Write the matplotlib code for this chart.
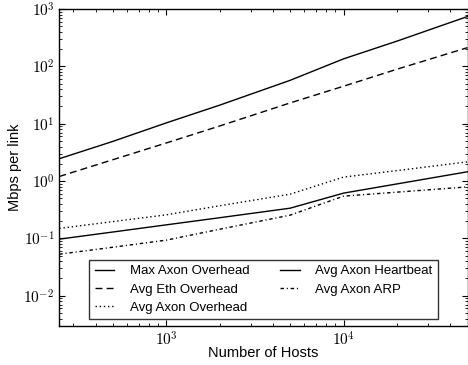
import matplotlib
matplotlib.use("Agg")
import matplotlib.pyplot as plt
from matplotlib.ticker import LogLocator, FuncFormatter, NullFormatter
import numpy as np

plt.rcParams['font.family'] = ['Liberation Sans', 'DejaVu Sans']
plt.rcParams['mathtext.fontset'] = 'cm'

hosts = [250, 500, 1000, 2000, 5000, 10000, 20000, 50000]
max_axon_overhead = [2.45, 4.9, 10.3, 21, 57, 135, 275, 740]
avg_eth_overhead = [1.2, 2.35, 4.6, 9.1, 23, 45, 89, 212]
avg_axon_overhead = [0.149, 0.196, 0.257, 0.37, 0.59, 1.17, 1.52, 2.16]
avg_axon_heartbeat = [0.097, 0.129, 0.172, 0.229, 0.336, 0.615, 0.89, 1.45]
avg_axon_arp = [0.053, 0.070, 0.093, 0.144, 0.254, 0.545, 0.64, 0.79]

labels = ["Max Axon Overhead", "Avg Eth Overhead", "Avg Axon Overhead",
          "Avg Axon Heartbeat", "Avg Axon ARP"]

fig = plt.figure(figsize=(4.68, 3.65), dpi=100)
ax = fig.add_axes([59.3/468, 39.3/365, (467.5-59.3)/468, (325.7-9)/365])

lw = 1.0
ax.plot(hosts, max_axon_overhead, color='black', lw=lw, linestyle='-', label=labels[0])
ax.plot(hosts, avg_eth_overhead, color='black', lw=lw, linestyle=(0, (5, 3)), label=labels[1])
ax.plot(hosts, avg_axon_overhead, color='black', lw=lw, linestyle=(0, (1, 2)), label=labels[2])
ax.plot(hosts, avg_axon_heartbeat, color='black', lw=lw, linestyle='-', label=labels[3])
ax.plot(hosts, avg_axon_arp, color='black', lw=lw, linestyle=(0, (2.5, 2, 0.8, 2)), label=labels[4])

ax.set_xscale('log')
ax.set_yscale('log')
ax.set_xlim(250, 50000)
ax.set_ylim(0.003, 1000)

fmt = FuncFormatter(lambda v, p: r'$10^{%d}$' % int(round(np.log10(v))))
ax.xaxis.set_major_locator(LogLocator(base=10, numticks=20))
ax.yaxis.set_major_locator(LogLocator(base=10, numticks=20))
ax.xaxis.set_major_formatter(fmt)
ax.yaxis.set_major_formatter(fmt)
ax.xaxis.set_minor_locator(LogLocator(base=10, subs=np.arange(2, 10), numticks=20))
ax.yaxis.set_minor_locator(LogLocator(base=10, subs=np.arange(2, 10), numticks=20))
ax.xaxis.set_minor_formatter(NullFormatter())
ax.yaxis.set_minor_formatter(NullFormatter())

ax.tick_params(which='both', direction='in', top=True, right=True, labelsize=11, color='black')
ax.tick_params(which='major', length=4, width=0.8)
ax.tick_params(which='minor', length=2, width=0.6)
for s in ax.spines.values():
    s.set_linewidth(1.0)
    s.set_color('black')

ax.set_xlabel("Number of Hosts", fontsize=10.5, labelpad=-2)
ax.set_ylabel("Mbps per link", fontsize=10.5, labelpad=1)

leg = ax.legend(loc='lower left', bbox_to_anchor=(0.0735, 0.021), borderaxespad=0,
                ncol=2, fontsize=9.5, frameon=True, fancybox=False, edgecolor='black',
                handlelength=1.5, handletextpad=1.15, columnspacing=2.35,
                labelspacing=0.45, borderpad=0.4)
leg.get_frame().set_linewidth(1.0)

fig.savefig("out.png", dpi=100)
